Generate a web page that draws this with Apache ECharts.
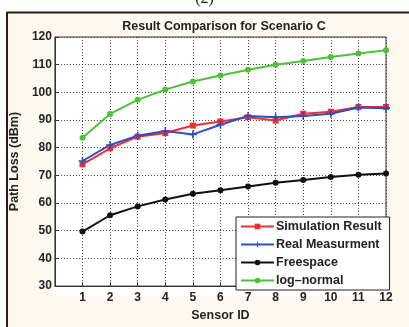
<!DOCTYPE html>
<html>
<head>
<meta charset="utf-8">
<script src="https://cdn.jsdelivr.net/npm/echarts@6/dist/echarts.min.js"></script>
<style>
html,body{margin:0;padding:0;background:#fff;}
#main{width:409px;height:327px;}
</style>
</head>
<body>
<div id="main"></div>
<script>
// sensor ids 1..12
var sensorIds = [1,2,3,4,5,6,7,8,9,10,11,12];
var simulation = [74, 79.8, 84, 85.3, 88, 89.5, 91, 89.8, 92.3, 93, 94.7, 94.7];
var realMeas  = [75.2, 81, 84.3, 86, 84.8, 88.3, 91.5, 91, 91.5, 92.3, 94.5, 94.3];
var freespace = [49.7, 55.6, 58.8, 61.3, 63.4, 64.6, 66, 67.3, 68.3, 69.4, 70.2, 70.7];
var logNormal = [83.6, 92.2, 97.3, 101, 103.9, 106.1, 108.2, 110, 111.3, 112.8, 114, 115.2];
var yTicks = [30,40,50,60,70,80,90,100,110,120];

function pairs(arr){
    return sensorIds.map(function(x,i){ return [x, arr[i]]; });
}

var plusPath = 'path://M4,0 L6,0 L6,4 L10,4 L10,6 L6,6 L6,10 L4,10 L4,6 L0,6 L0,4 L4,4 Z';

var chart = echarts.init(document.getElementById('main'));
var font = 'Liberation Sans, Arial, sans-serif';

function line(name, data, color, symbol, size){
    return {
        name: name,
        type: 'line',
        data: pairs(data),
        symbol: symbol,
        symbolSize: size,
        showSymbol: true,
        lineStyle: {color: color, width: 2},
        itemStyle: {color: color},
        animation: false
    };
}

chart.setOption({
    backgroundColor: '#fff',
    graphic: [
        {type:'rect', shape:{x:7,y:12,width:402,height:315}, style:{fill:'#fdf9f0'}, z:-10},
        {type:'line', shape:{x1:7,y1:12.5,x2:409,y2:12.5}, style:{stroke:'#2a1a10',lineWidth:2}, z:-5},
        {type:'line', shape:{x1:7,y1:12,x2:7,y2:327}, style:{stroke:'#2a1a10',lineWidth:2}, z:-5},
        {type:'rect', shape:{x:53,y:37,width:333,height:259}, style:{fill:'#fff'}, z:-4},
        {type:'text', left:'center', top:-9, style:{text:'(2)', font:'16px Liberation Serif', fill:'#222'}}
    ],
    title: {
        text: 'Result Comparison for Scenario C',
        left: 219, top: 15, textAlign: 'center',
        textStyle: {fontSize: 12.5, fontWeight: 'bold', color: '#222', fontFamily: font}
    },
    legend: {
        orient: 'vertical',
        left: 236, top: 217,
        width: 150, height: 72,
        padding: [3, 8, 3, 4],
        itemGap: 5,
        itemWidth: 33, itemHeight: 7,
        backgroundColor: '#fff',
        borderColor: '#222', borderWidth: 1, borderRadius: 0,
        textStyle: {fontSize: 12.5, fontWeight: 'bold', color: '#222', fontFamily: font, padding:[0,0,0,-3]},
        data: ['Simulation Result','Real Measurment','Freespace','log\u2013normal']
    },
    grid: {left: 53, top: 37, right: 23, bottom: 31, show: true, borderColor: '#333', borderWidth: 1, backgroundColor: 'transparent'},
    xAxis: {
        type: 'value', min: 0, max: 12, interval: 1,
        name: 'Sensor ID', nameLocation: 'middle', nameGap: 20,
        nameTextStyle: {fontSize: 12.5, fontWeight: 'bold', color: '#222', fontFamily: font},
        axisLine: {lineStyle: {color: '#333'}},
        axisTick: {inside: true, length: 4, lineStyle: {color: '#333'}},
        axisLabel: {fontSize: 12, fontWeight: 'bold', color: '#222', fontFamily: font, margin: 6,
            formatter: function(v){ return v === 0 ? '' : v; }},
        splitLine: {show: true, lineStyle: {color: '#444', type: [1,2], width: 1}}
    },
    yAxis: {
        type: 'value', min: yTicks[0], max: yTicks[yTicks.length-1], interval: 10,
        name: 'Path Loss (dBm)', nameLocation: 'middle', nameGap: 26,
        nameTextStyle: {fontSize: 12.5, fontWeight: 'bold', color: '#222', fontFamily: font},
        axisLine: {show: true, lineStyle: {color: '#333'}},
        axisTick: {inside: true, length: 4, lineStyle: {color: '#333'}},
        axisLabel: {fontSize: 12, fontWeight: 'bold', color: '#222', fontFamily: font, margin: 3},
        splitLine: {show: true, lineStyle: {color: '#444', type: [1,2], width: 1}}
    },
    series: [
        line('Simulation Result', simulation, '#f03030', 'rect', 6),
        line('Real Measurment', realMeas, '#2a4fc0', plusPath, 8),
        line('Freespace', freespace, '#111', 'circle', 6),
        line('log\u2013normal', logNormal, '#4ec03a', 'circle', 6)
    ]
});
</script>
</body>
</html>
